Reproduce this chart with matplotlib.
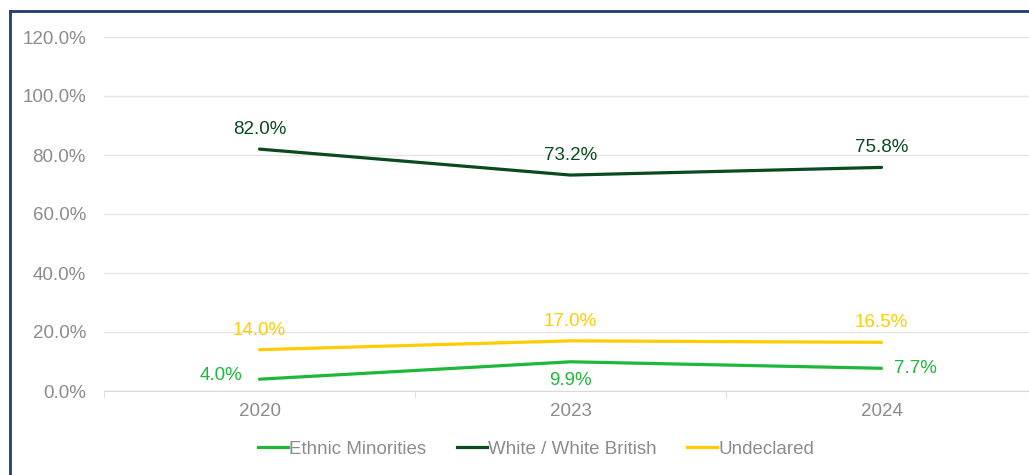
import matplotlib.pyplot as plt
from matplotlib.lines import Line2D

plt.rcParams['font.family'] = ['Liberation Sans', 'DejaVu Sans']

years = ['2020', '2023', '2024']
ethnic_minorities = [4.0, 9.9, 7.7]
white_british = [82.0, 73.2, 75.8]
undeclared = [14.0, 17.0, 16.5]

series = [
    ('Ethnic Minorities', ethnic_minorities, '#1db83a'),
    ('White / White British', white_british, '#0a4a1f'),
    ('Undeclared', undeclared, '#ffcc00'),
]
# label placement per point: (dx, dy) in points, ha, va
placements = {
    'Ethnic Minorities': [(-12, 3, 'right', 'center'), (0, -7, 'center', 'top'), (9, 0, 'left', 'center')],
    'White / White British': [(0, 8, 'center', 'bottom')] * 3,
    'Undeclared': [(0, 8, 'center', 'bottom')] * 3,
}

fs = 13.5
grey = '#8c8c8c'
fig = plt.figure(figsize=(10.29, 4.75), dpi=100)
ax = fig.add_axes([104 / 1029, 84 / 475, 933 / 1029, 354 / 475])

x = list(range(len(years)))
for name, vals, color in series:
    ax.plot(x, vals, color=color, lw=2.3, solid_capstyle='round', label=name)
    for xi, v, (dx, dy, ha, va) in zip(x, vals, placements[name]):
        ax.annotate(f'{v:.1f}%', (xi, v), xytext=(dx, dy), textcoords='offset points',
                    ha=ha, va=va, color=color, fontsize=fs)

ax.set_xlim(-0.5, len(years) - 0.5)
ax.set_ylim(0, 120)
ax.set_yticks(range(0, 121, 20))
ax.set_yticklabels([f'{t:.1f}%' for t in range(0, 121, 20)])
ax.set_xticks(x)
ax.set_xticklabels(years)
ax.set_xticks([-0.5, 0.5, 1.5, 2.5], minor=True)
ax.grid(axis='y', color='#e4e4e4', lw=1)
ax.set_axisbelow(True)
for s in ['top', 'right', 'left']:
    ax.spines[s].set_visible(False)
ax.spines['bottom'].set_color('#d9d9d9')
ax.tick_params(axis='y', length=0, pad=13, labelcolor=grey, labelsize=fs)
ax.tick_params(axis='x', which='major', length=0, pad=9, labelcolor=grey, labelsize=fs)
ax.tick_params(axis='x', which='minor', length=5, color='#d9d9d9')

handles = [Line2D([], [], color=c, lw=2.3) for _, _, c in series]
fig.legend(handles, [n for n, _, _ in series], loc='center', bbox_to_anchor=(536 / 1029, 1 - 449 / 475),
           ncol=3, frameon=False, fontsize=fs, labelcolor=grey, handlelength=1.6,
           handletextpad=0.05, columnspacing=1.65)

# outer frame
navy = '#1f3d73'
fig.add_artist(Line2D([10 / 1029, 10 / 1029], [0, 1 - 11 / 475], color=navy, lw=2))
fig.add_artist(Line2D([10 / 1029, 1], [1 - 11 / 475, 1 - 11 / 475], color=navy, lw=2))

fig.savefig('out.png', dpi=100)
